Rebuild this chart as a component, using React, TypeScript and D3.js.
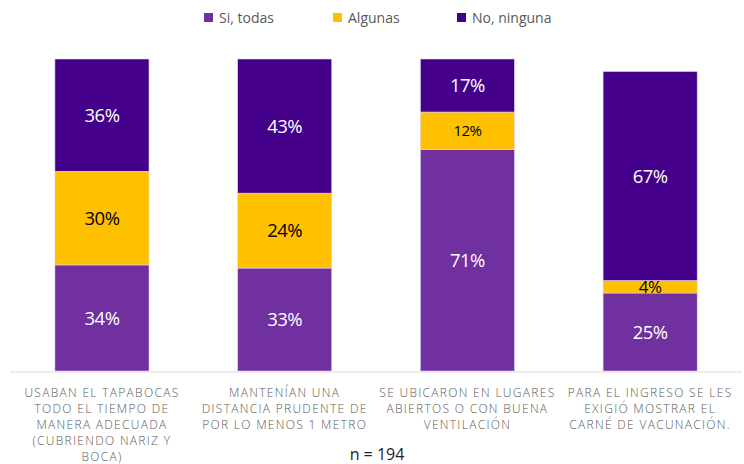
import React from 'react';
import * as d3 from 'd3';

// categories (each label line as its own string)
const categories = [
  ['USABAN EL TAPABOCAS', 'TODO EL TIEMPO DE', 'MANERA ADECUADA', '(CUBRIENDO NARIZ Y', 'BOCA)'],
  ['MANTENÍAN UNA', 'DISTANCIA PRUDENTE DE', 'POR LO MENOS 1 METRO'],
  ['SE UBICARON EN LUGARES', 'ABIERTOS O CON BUENA', 'VENTILACIÓN'],
  ['PARA EL INGRESO SE LES', 'EXIGIÓ MOSTRAR EL', 'CARNÉ DE VACUNACIÓN.'],
];
const seriesNames = ['Si, todas', 'Algunas', 'No, ninguna'];
const siTodas = [0.34, 0.33, 0.71, 0.25];
const algunas = [0.3, 0.24, 0.12, 0.04];
const noNinguna = [0.36, 0.43, 0.17, 0.67];
const sampleNote = 'n = 194';

const colors = ['#7030A0', '#FFC000', '#44008A'];
const labelColors = ['#ffffff', '#000000', '#ffffff'];

const W = 744;
const H = 464;

export default function App() {
  const keys = categories.map((_, i) => 'c' + i);
  const rows = keys.map((k, i) => ({
    key: k,
    s0: siTodas[i],
    s1: algunas[i],
    s2: noNinguna[i],
  }));

  const x = d3
    .scaleBand<string>()
    .domain(keys)
    .range([10.6, 741.5])
    .paddingInner(0.485)
    .paddingOuter(0.2425);

  const y = d3.scaleLinear().domain([0, 1]).range([371, 59]);

  const stack = d3.stack<any>().keys(['s0', 's1', 's2']);
  const layers = stack(rows);

  const font = "'Open Sans', 'Noto Sans', sans-serif";

  // legend layout
  const legendX = [204, 333, 457];

  return (
    <svg width={W} height={H} style={{ position: 'absolute', left: 0, top: 0 }}>
      <rect width={W} height={H} fill="#ffffff" />

      {/* legend */}
      {seriesNames.map((name, i) => (
        <g key={name} transform={`translate(${legendX[i]},0)`}>
          <rect x={0} y={13} width={9} height={9} fill={colors[i]} />
          <text x={15} y={23} fontFamily={font} fontSize={14} fill="#595959">
            {name}
          </text>
        </g>
      ))}

      {/* bars */}
      {layers.map((layer, li) => (
        <g key={layer.key}>
          {layer.map((d, i) => {
            const x0 = x(keys[i])!;
            const top = y(d[1]);
            const bottom = y(d[0]);
            const h = bottom - top;
            const v = d[1] - d[0];
            const fs = h > 45 ? 18.5 : h > 20 ? 15 : 17;
            return (
              <g key={i}>
                <rect
                  x={x0}
                  y={top}
                  width={x.bandwidth()}
                  height={h}
                  fill={colors[li]}
                  stroke="#e3d6f0"
                  strokeWidth={0.6}
                />
                <text
                  x={x0 + x.bandwidth() / 2}
                  y={(top + bottom) / 2}
                  dy="0.36em"
                  textAnchor="middle"
                  fontFamily={font}
                  fontSize={fs}
                  letterSpacing={-0.5}
                  fill={labelColors[li]}
                >
                  {d3.format('.0%')(v)}
                </text>
              </g>
            );
          })}
        </g>
      ))}

      {/* axis line */}
      <line x1={10} x2={742} y1={372} y2={372} stroke="#d9d9d9" strokeWidth={1} />

      {/* category labels */}
      {categories.map((lines, i) => (
        <text
          key={i}
          x={x(keys[i])! + x.bandwidth() / 2}
          textAnchor="middle"
          fontFamily={font}
          fontSize={12}
          fontWeight={300}
          letterSpacing={1.3}
          fill="#595959"
        >
          {lines.map((ln, j) => (
            <tspan key={j} x={x(keys[i])! + x.bandwidth() / 2} y={397 + j * 16}>
              {ln}
            </tspan>
          ))}
        </text>
      ))}

      <text x={377} y={460} textAnchor="middle" fontFamily={font} fontSize={16} fill="#222222">
        {sampleNote}
      </text>
    </svg>
  );
}
